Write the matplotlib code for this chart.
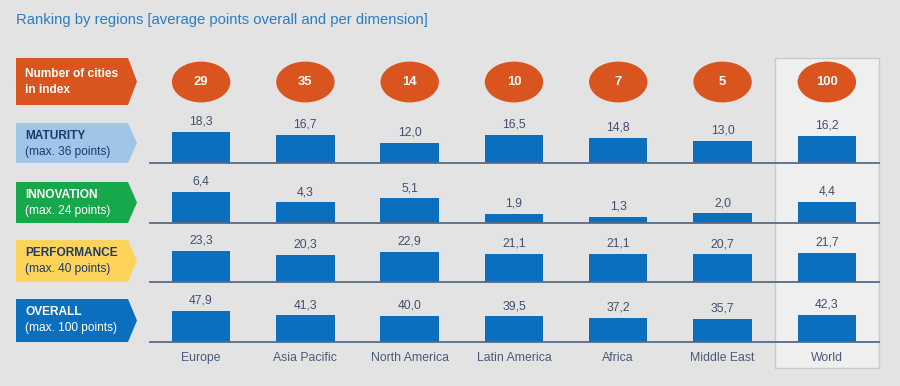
#!/usr/bin/env python3
"""Ranking by regions: average points overall and per dimension."""
import matplotlib

matplotlib.use("Agg")

import matplotlib.pyplot as plt
from matplotlib.patches import Ellipse, Polygon, Rectangle

# --------------------------------------------------------------------------- #
# Data
# --------------------------------------------------------------------------- #
REGIONS = ["Europe", "Asia Pacific", "North America", "Latin America",
           "Africa", "Middle East", "World"]
CITIES = [29, 35, 14, 10, 7, 5, 100]
MATURITY = [18.3, 16.7, 12.0, 16.5, 14.8, 13.0, 16.2]
INNOVATION = [6.4, 4.3, 5.1, 1.9, 1.3, 2.0, 4.4]
PERFORMANCE = [23.3, 20.3, 22.9, 21.1, 21.1, 20.7, 21.7]
OVERALL = [47.9, 41.3, 40.0, 39.5, 37.2, 35.7, 42.3]

ROW_NAMES = ["MATURITY", "INNOVATION", "PERFORMANCE", "OVERALL"]
ROW_SUBS = ["(max. 36 points)", "(max. 24 points)", "(max. 40 points)",
            "(max. 100 points)"]
ROW_VALUES = [MATURITY, INNOVATION, PERFORMANCE, OVERALL]

# --------------------------------------------------------------------------- #
# Style
# --------------------------------------------------------------------------- #
W, H = 900, 386
BG = "#e3e3e3"
BAR = "#0b6fc0"
ORANGE = "#d9541e"
NAVY = "#1d3a6c"
VALUE_C = "#3f5070"
LINE_C = "#566b88"
BOX_COLORS = ["#9fc5e8", "#18a84c", "#fdd35c", "#0b6fc0"]
BOX_TEXT = [NAVY, "white", NAVY, "white"]

plt.rcParams["font.family"] = ["Liberation Sans", "DejaVu Sans"]

BASELINES = [163, 223, 282, 342]   # px, from top
BOX_TOPS = [123, 182, 240, 299]
X0, X1 = 150, 879                  # px extent of the bar rows
XLIM = (-0.49, 6.5)


def fig_rect(left, top, right, bottom):
    """Pixel box (from top-left) -> figure fraction [l, b, w, h]."""
    return [left / W, 1 - bottom / H, (right - left) / W, (bottom - top) / H]


def arrow_box(ax, top, bottom, color):
    mid = (top + bottom) / 2
    pts = [(16, top), (128, top), (137, mid), (128, bottom), (16, bottom)]
    ax.add_patch(Polygon(pts, closed=True, facecolor=color, edgecolor="none"))


def main():
    fig = plt.figure(figsize=(W / 100, H / 100), dpi=100, facecolor=BG)

    # background canvas in pixel coordinates
    bg = fig.add_axes([0, 0, 1, 1], zorder=0)
    bg.set_xlim(0, W)
    bg.set_ylim(H, 0)
    bg.axis("off")
    bg.set_facecolor(BG)

    bg.text(16, 20, "Ranking by regions [average points overall and per dimension]",
            color="#2a7dc6", fontsize=10.7, va="center", ha="left")

    # highlighted "World" column
    bg.add_patch(Rectangle((775, 58), 104, 310, facecolor="#efefef",
                           edgecolor="#cacaca", lw=1))

    # label boxes
    arrow_box(bg, 58, 105, ORANGE)
    bg.text(25, 74, "Number of cities", color="white", fontsize=8.6,
            fontweight="bold", va="center")
    bg.text(25, 90, "in index", color="white", fontsize=8.6,
            fontweight="bold", va="center")
    for top, base, name, sub, col, tc in zip(BOX_TOPS, BASELINES, ROW_NAMES,
                                             ROW_SUBS, BOX_COLORS, BOX_TEXT):
        arrow_box(bg, top, base, col)
        bg.text(25, top + 13, name, color=tc, fontsize=8.6, fontweight="bold",
                va="center")
        bg.text(25, top + 29, sub, color=tc, fontsize=8.6, va="center")

    x = list(range(len(REGIONS)))

    # number of cities row
    ax_c = fig.add_axes(fig_rect(X0, 58, X1, 106), zorder=2)
    ax_c.set_xlim(*XLIM)
    ax_c.set_ylim(0, 1)
    ax_c.axis("off")
    for xi, n in zip(x, CITIES):
        ax_c.add_patch(Ellipse((xi, 0.5), 0.56, 0.85, facecolor=ORANGE,
                               edgecolor="none"))
        ax_c.text(xi, 0.5, str(n), color="white", fontsize=9.4,
                  fontweight="bold", ha="center", va="center")

    # bar rows, each scaled to its own maximum
    for i, (base, vals) in enumerate(zip(BASELINES, ROW_VALUES)):
        ax = fig.add_axes(fig_rect(X0, base - 48, X1, base), zorder=2)
        ax.patch.set_alpha(0)
        ax.set_xlim(*XLIM)
        ax.set_ylim(0, max(vals) * 48 / 31)
        ax.bar(x, vals, width=0.56, color=BAR, zorder=2)
        ax.axhline(0, color=LINE_C, lw=1.3, zorder=3, clip_on=False)
        for xi, v in zip(x, vals):
            ax.annotate(f"{v:.1f}".replace(".", ","), (xi, v),
                        xytext=(0, 3), textcoords="offset points",
                        ha="center", va="bottom", color=VALUE_C, fontsize=8.8)
        for s in ax.spines.values():
            s.set_visible(False)
        ax.set_yticks([])
        if i == len(BASELINES) - 1:
            ax.set_xticks(x)
            ax.set_xticklabels(REGIONS, color="#4a5a78", fontsize=8.8)
            ax.tick_params(axis="x", length=0, pad=7.5)
        else:
            ax.set_xticks([])

    fig.savefig("out.png", dpi=100, facecolor=BG)
    plt.close(fig)


if __name__ == "__main__":
    main()
